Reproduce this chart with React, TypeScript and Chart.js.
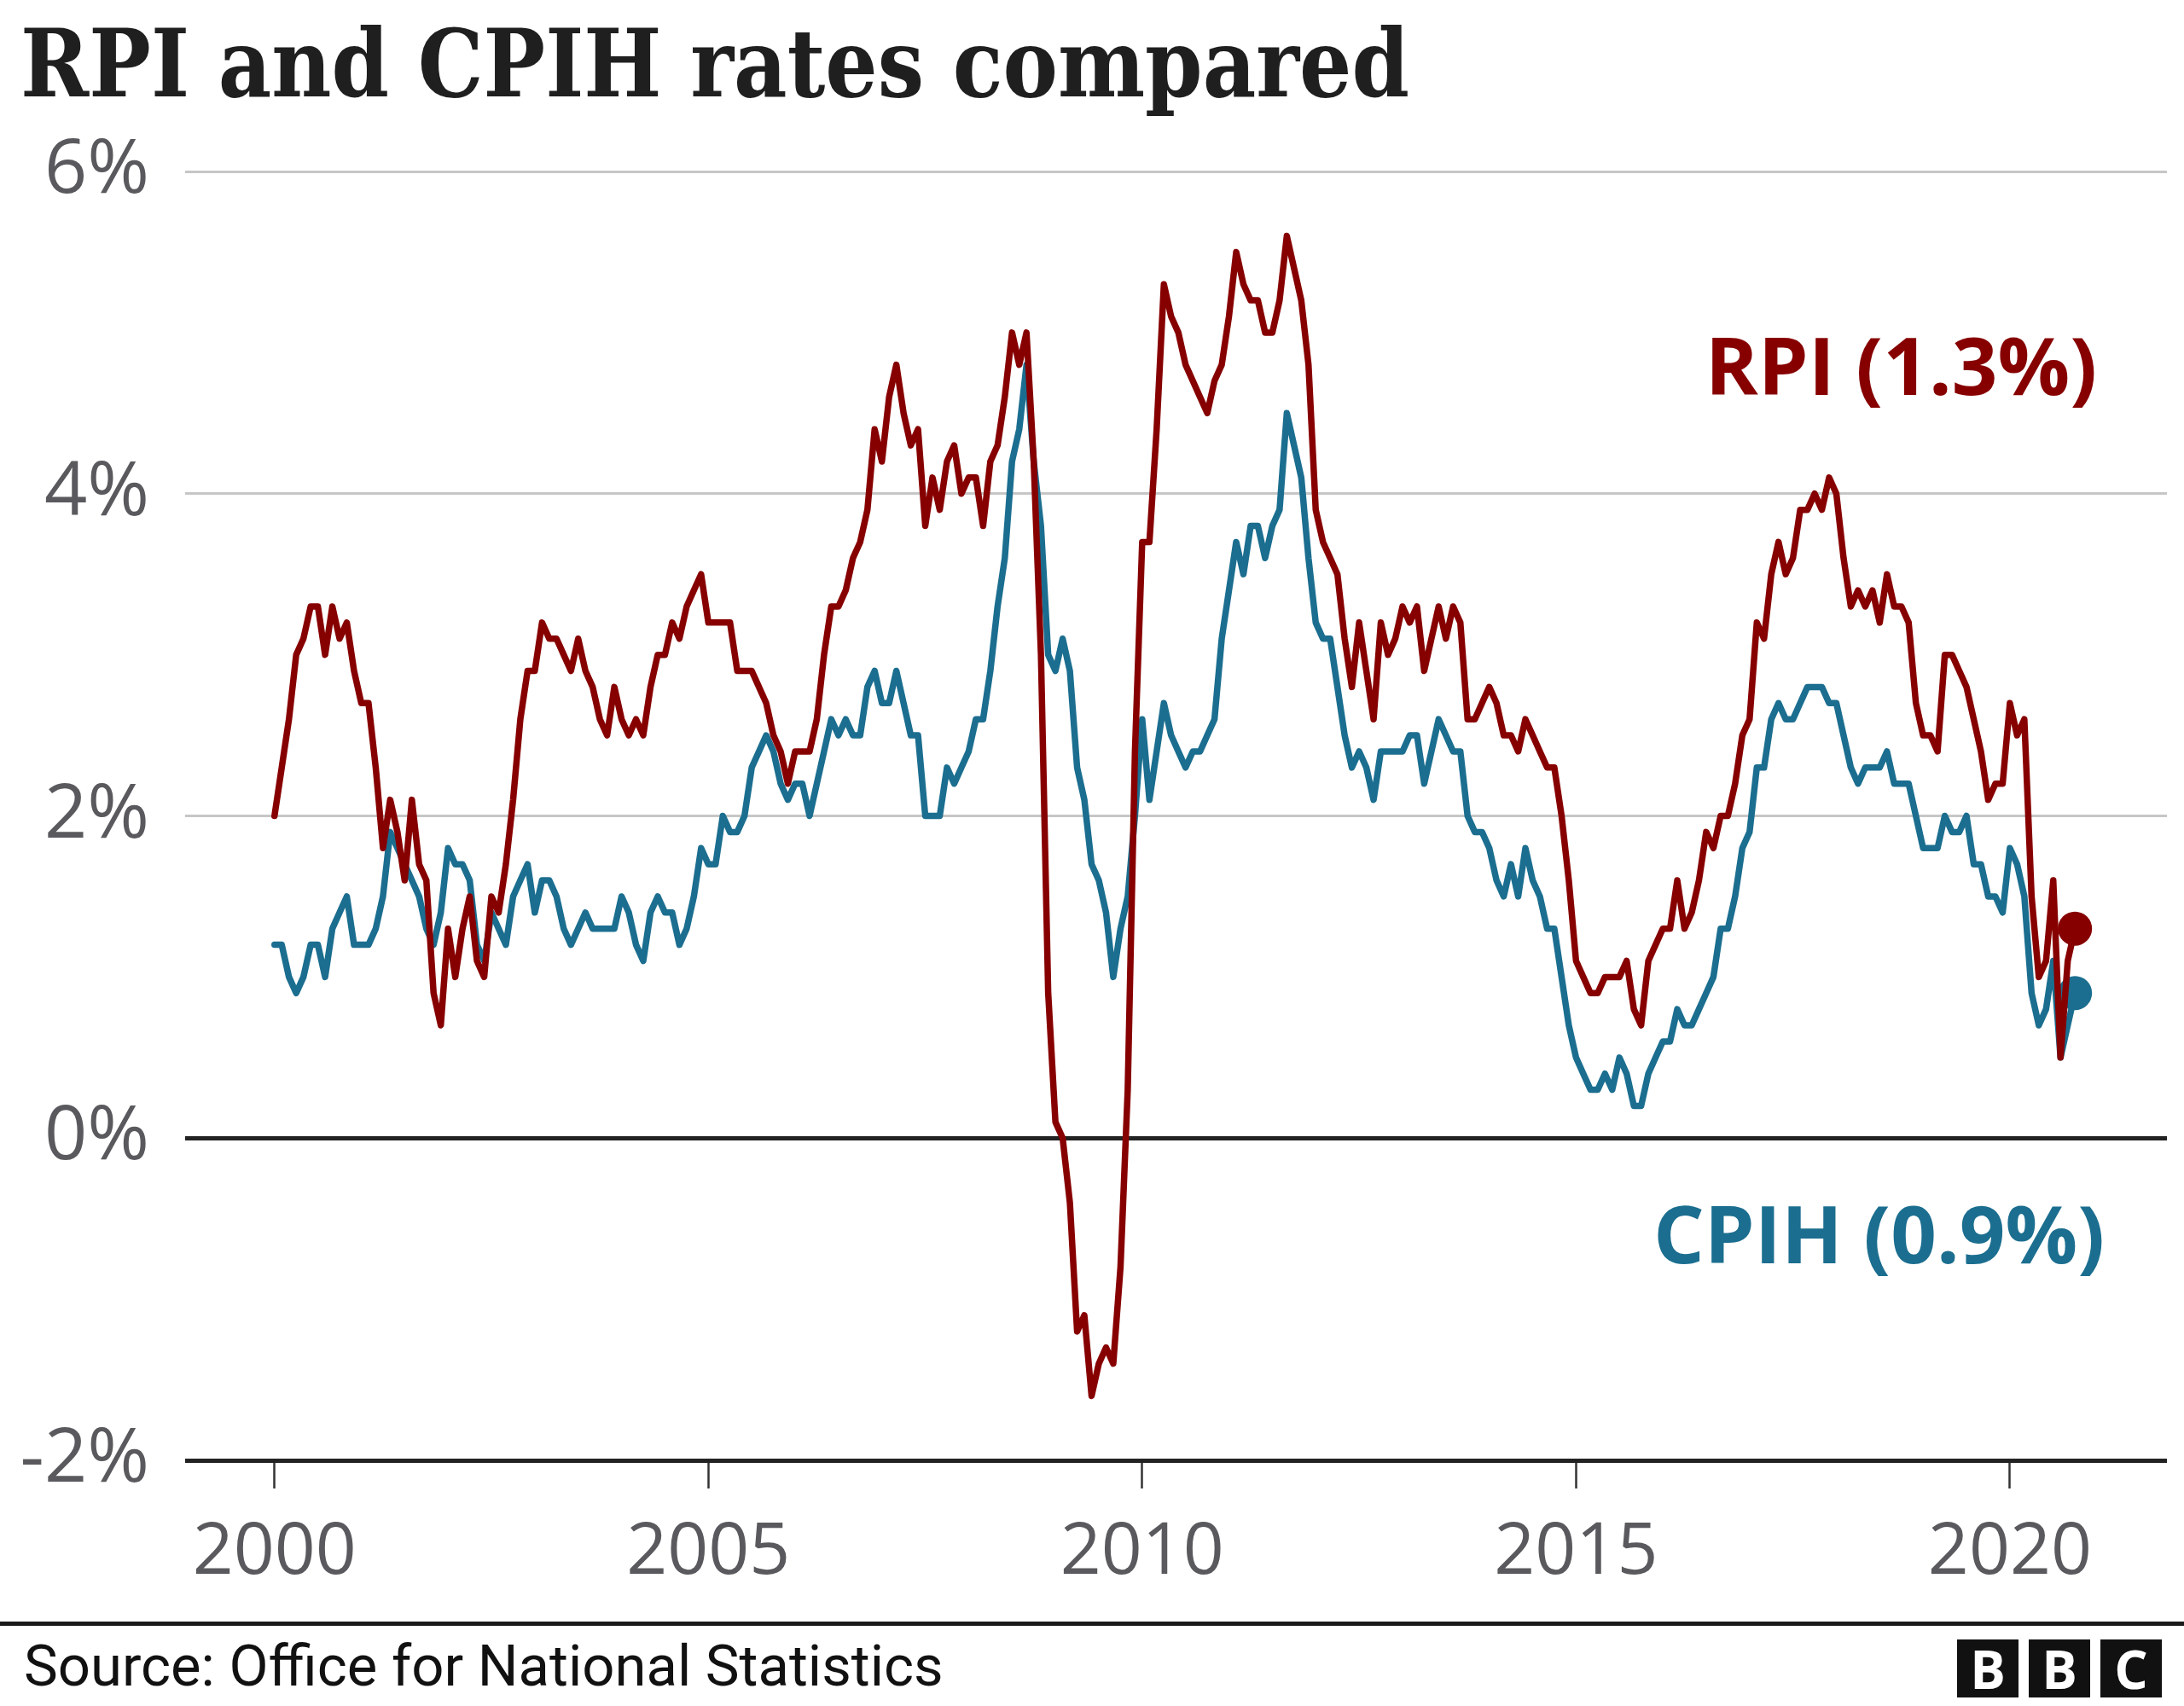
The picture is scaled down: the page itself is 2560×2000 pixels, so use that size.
import React, { useEffect, useRef } from "react";
import { Chart, registerables } from "chart.js";

Chart.register(...registerables);

// ---- data (annual % change, monthly from Jan 2000) ----
const START_YEAR = 2000;
const X_TICKS = [2000, 2005, 2010, 2015, 2020];
const Y_TICKS = [-2, 0, 2, 4, 6];

const RPI = [
  2.0, 2.3, 2.6, 3.0, 3.1, 3.3, 3.3, 3.0, 3.3, 3.1, 3.2, 2.9, // 2000
  2.7, 2.7, 2.3, 1.8, 2.1, 1.9, 1.6, 2.1, 1.7, 1.6, 0.9, 0.7, // 2001
  1.3, 1.0, 1.3, 1.5, 1.1, 1.0, 1.5, 1.4, 1.7, 2.1, 2.6, 2.9, // 2002
  2.9, 3.2, 3.1, 3.1, 3.0, 2.9, 3.1, 2.9, 2.8, 2.6, 2.5, 2.8, // 2003
  2.6, 2.5, 2.6, 2.5, 2.8, 3.0, 3.0, 3.2, 3.1, 3.3, 3.4, 3.5, // 2004
  3.2, 3.2, 3.2, 3.2, 2.9, 2.9, 2.9, 2.8, 2.7, 2.5, 2.4, 2.2, // 2005
  2.4, 2.4, 2.4, 2.6, 3.0, 3.3, 3.3, 3.4, 3.6, 3.7, 3.9, 4.4, // 2006
  4.2, 4.6, 4.8, 4.5, 4.3, 4.4, 3.8, 4.1, 3.9, 4.2, 4.3, 4.0, // 2007
  4.1, 4.1, 3.8, 4.2, 4.3, 4.6, 5.0, 4.8, 5.0, 4.2, 3.0, 0.9, // 2008
  0.1, 0.0, -0.4, -1.2, -1.1, -1.6, -1.4, -1.3, -1.4, -0.8, 0.3, 2.4, // 2009
  3.7, 3.7, 4.4, 5.3, 5.1, 5.0, 4.8, 4.7, 4.6, 4.5, 4.7, 4.8, // 2010
  5.1, 5.5, 5.3, 5.2, 5.2, 5.0, 5.0, 5.2, 5.6, 5.4, 5.2, 4.8, // 2011
  3.9, 3.7, 3.6, 3.5, 3.1, 2.8, 3.2, 2.9, 2.6, 3.2, 3.0, 3.1, // 2012
  3.3, 3.2, 3.3, 2.9, 3.1, 3.3, 3.1, 3.3, 3.2, 2.6, 2.6, 2.7, // 2013
  2.8, 2.7, 2.5, 2.5, 2.4, 2.6, 2.5, 2.4, 2.3, 2.3, 2.0, 1.6, // 2014
  1.1, 1.0, 0.9, 0.9, 1.0, 1.0, 1.0, 1.1, 0.8, 0.7, 1.1, 1.2, // 2015
  1.3, 1.3, 1.6, 1.3, 1.4, 1.6, 1.9, 1.8, 2.0, 2.0, 2.2, 2.5, // 2016
  2.6, 3.2, 3.1, 3.5, 3.7, 3.5, 3.6, 3.9, 3.9, 4.0, 3.9, 4.1, // 2017
  4.0, 3.6, 3.3, 3.4, 3.3, 3.4, 3.2, 3.5, 3.3, 3.3, 3.2, 2.7, // 2018
  2.5, 2.5, 2.4, 3.0, 3.0, 2.9, 2.8, 2.6, 2.4, 2.1, 2.2, 2.2, // 2019
  2.7, 2.5, 2.6, 1.5, 1.0, 1.1, 1.6, 0.5, 1.1, 1.3, // 2020
];

const CPIH = [
  1.2, 1.2, 1.0, 0.9, 1.0, 1.2, 1.2, 1.0, 1.3, 1.4, 1.5, 1.2, // 2000
  1.2, 1.2, 1.3, 1.5, 1.9, 1.8, 1.7, 1.6, 1.5, 1.3, 1.2, 1.4, // 2001
  1.8, 1.7, 1.7, 1.6, 1.2, 1.1, 1.4, 1.3, 1.2, 1.5, 1.6, 1.7, // 2002
  1.4, 1.6, 1.6, 1.5, 1.3, 1.2, 1.3, 1.4, 1.3, 1.3, 1.3, 1.3, // 2003
  1.5, 1.4, 1.2, 1.1, 1.4, 1.5, 1.4, 1.4, 1.2, 1.3, 1.5, 1.8, // 2004
  1.7, 1.7, 2.0, 1.9, 1.9, 2.0, 2.3, 2.4, 2.5, 2.4, 2.2, 2.1, // 2005
  2.2, 2.2, 2.0, 2.2, 2.4, 2.6, 2.5, 2.6, 2.5, 2.5, 2.8, 2.9, // 2006
  2.7, 2.7, 2.9, 2.7, 2.5, 2.5, 2.0, 2.0, 2.0, 2.3, 2.2, 2.3, // 2007
  2.4, 2.6, 2.6, 2.9, 3.3, 3.6, 4.2, 4.4, 4.8, 4.2, 3.8, 3.0, // 2008
  2.9, 3.1, 2.9, 2.3, 2.1, 1.7, 1.6, 1.4, 1.0, 1.3, 1.5, 2.0, // 2009
  2.6, 2.1, 2.4, 2.7, 2.5, 2.4, 2.3, 2.4, 2.4, 2.5, 2.6, 3.1, // 2010
  3.4, 3.7, 3.5, 3.8, 3.8, 3.6, 3.8, 3.9, 4.5, 4.3, 4.1, 3.6, // 2011
  3.2, 3.1, 3.1, 2.8, 2.5, 2.3, 2.4, 2.3, 2.1, 2.4, 2.4, 2.4, // 2012
  2.4, 2.5, 2.5, 2.2, 2.4, 2.6, 2.5, 2.4, 2.4, 2.0, 1.9, 1.9, // 2013
  1.8, 1.6, 1.5, 1.7, 1.5, 1.8, 1.6, 1.5, 1.3, 1.3, 1.0, 0.7, // 2014
  0.5, 0.4, 0.3, 0.3, 0.4, 0.3, 0.5, 0.4, 0.2, 0.2, 0.4, 0.5, // 2015
  0.6, 0.6, 0.8, 0.7, 0.7, 0.8, 0.9, 1.0, 1.3, 1.3, 1.5, 1.8, // 2016
  1.9, 2.3, 2.3, 2.6, 2.7, 2.6, 2.6, 2.7, 2.8, 2.8, 2.8, 2.7, // 2017
  2.7, 2.5, 2.3, 2.2, 2.3, 2.3, 2.3, 2.4, 2.2, 2.2, 2.2, 2.0, // 2018
  1.8, 1.8, 1.8, 2.0, 1.9, 1.9, 2.0, 1.7, 1.7, 1.5, 1.5, 1.4, // 2019
  1.8, 1.7, 1.5, 0.9, 0.7, 0.8, 1.1, 0.5, 0.7, 0.9, // 2020
];

const TITLE = "RPI and CPIH rates compared";
const RPI_LABEL = "RPI (1.3%)";
const CPIH_LABEL = "CPIH (0.9%)";
const SOURCE = "Source: Office for National Statistics";
const LOGO_LETTERS = ["B", "B", "C"];

// ---- styles ----
const RED = "#870000";
const BLUE = "#1b6e8f";
const TICK_GREY = "#5a5a5e";

function toPoints(values: number[]) {
  return values.map((v, i) => ({ x: START_YEAR + i / 12, y: v }));
}

export default function App() {
  const ref = useRef<HTMLCanvasElement | null>(null);

  useEffect(() => {
    const canvas = ref.current;
    if (!canvas) return;
    const lastIdx = (arr: number[]) => arr.length - 1;
    const chart = new Chart(canvas, {
      type: "line",
      data: {
        datasets: [
          {
            label: "RPI",
            data: toPoints(RPI),
            borderColor: RED,
            backgroundColor: RED,
            borderWidth: 7.5,
            borderJoinStyle: "round",
            borderCapStyle: "round",
            tension: 0,
            pointRadius: (ctx: any) => (ctx.dataIndex === lastIdx(RPI) ? 20 : 0),
            pointBackgroundColor: RED,
            pointBorderWidth: 0,
            pointHoverRadius: 0,
          },
          {
            label: "CPIH",
            data: toPoints(CPIH),
            borderColor: BLUE,
            backgroundColor: BLUE,
            borderWidth: 7.5,
            borderJoinStyle: "round",
            borderCapStyle: "round",
            tension: 0,
            pointRadius: (ctx: any) => (ctx.dataIndex === lastIdx(CPIH) ? 20 : 0),
            pointBackgroundColor: BLUE,
            pointBorderWidth: 0,
            pointHoverRadius: 0,
          },
        ],
      },
      options: {
        responsive: false,
        maintainAspectRatio: false,
        animation: false,
        events: [],
        layout: { padding: { top: 201, right: 20, bottom: 138, left: 0 } },
        plugins: { legend: { display: false }, tooltip: { enabled: false } },
        scales: {
          x: {
            type: "linear",
            min: 1998.97,
            max: 2021.81,
            afterBuildTicks: (s: any) => {
              s.ticks = X_TICKS.map((v) => ({ value: v }));
            },
            afterFit: (s: any) => {
              s.height = 150;
            },
            border: { display: false },
            grid: {
              drawOnChartArea: false,
              drawTicks: true,
              tickLength: 33,
              tickWidth: 2.5,
              tickColor: "#333",
              color: "#333",
            },
            ticks: {
              autoSkip: false,
              maxRotation: 0,
              padding: 26,
              color: TICK_GREY,
              font: { family: "'Open Sans'", size: 84 },
              callback: (v: any) => String(v),
            },
          },
          y: {
            min: -2,
            max: 6,
            afterBuildTicks: (s: any) => {
              s.ticks = Y_TICKS.map((v) => ({ value: v }));
            },
            afterFit: (s: any) => {
              s.width = 217;
            },
            border: { display: false },
            grid: {
              drawTicks: false,
              color: (ctx: any) =>
                ctx.tick && (ctx.tick.value === 0 || ctx.tick.value === -2) ? "#222222" : "#c6c6c6",
              lineWidth: (ctx: any) =>
                ctx.tick && (ctx.tick.value === 0 || ctx.tick.value === -2) ? 5 : 3,
            },
            ticks: {
              padding: 42,
              color: TICK_GREY,
              font: { family: "'Open Sans'", size: 88 },
              callback: (v: any) => `${v}%`,
            },
          },
        },
      },
    });
    return () => chart.destroy();
  }, []);

  const abs = (extra: React.CSSProperties): React.CSSProperties => ({
    position: "absolute",
    whiteSpace: "nowrap",
    lineHeight: 1,
    margin: 0,
    ...extra,
  });

  return (
    <div
      style={{
        position: "absolute",
        left: 0,
        top: 0,
        width: 2560,
        height: 2000,
        background: "#ffffff",
        overflow: "hidden",
      }}
    >
      <canvas
        ref={ref}
        width={2560}
        height={2000}
        style={{ position: "absolute", left: 0, top: 0, width: 2560, height: 2000 }}
      />
      <div
        style={abs({
          left: 24,
          top: 20,
          fontFamily: "'DejaVu Serif', serif",
          fontWeight: 700,
          fontSize: 110,
          color: "#1f1f1f",
          transform: "scaleX(0.878)",
          transformOrigin: "0 0",
        })}
      >
        {TITLE}
      </div>
      <div
        style={abs({
          right: 102,
          top: 380,
          fontFamily: "'Open Sans', sans-serif",
          fontWeight: 700,
          fontSize: 94,
          color: RED,
        })}
      >
        {RPI_LABEL}
      </div>
      <div
        style={abs({
          right: 93,
          top: 1398,
          fontFamily: "'Open Sans', sans-serif",
          fontWeight: 700,
          fontSize: 94,
          color: BLUE,
        })}
      >
        {CPIH_LABEL}
      </div>
      <div style={abs({ left: 0, top: 1901, width: 2560, height: 5, background: "#1a1a1a" })} />
      <div
        style={abs({
          left: 28,
          top: 1920,
          fontFamily: "Roboto, sans-serif",
          fontSize: 67,
          color: "#111",
        })}
      >
        {SOURCE}
      </div>
      {LOGO_LETTERS.map((ch, i) => (
        <div
          key={i}
          style={abs({
            left: 2294 + i * 84,
            top: 1922,
            width: 72,
            height: 68,
            background: "#111",
            color: "#fff",
            fontFamily: "'Open Sans', sans-serif",
            fontWeight: 700,
            fontSize: 62,
            lineHeight: "68px",
            textAlign: "center",
          })}
        >
          {ch}
        </div>
      ))}
    </div>
  );
}
